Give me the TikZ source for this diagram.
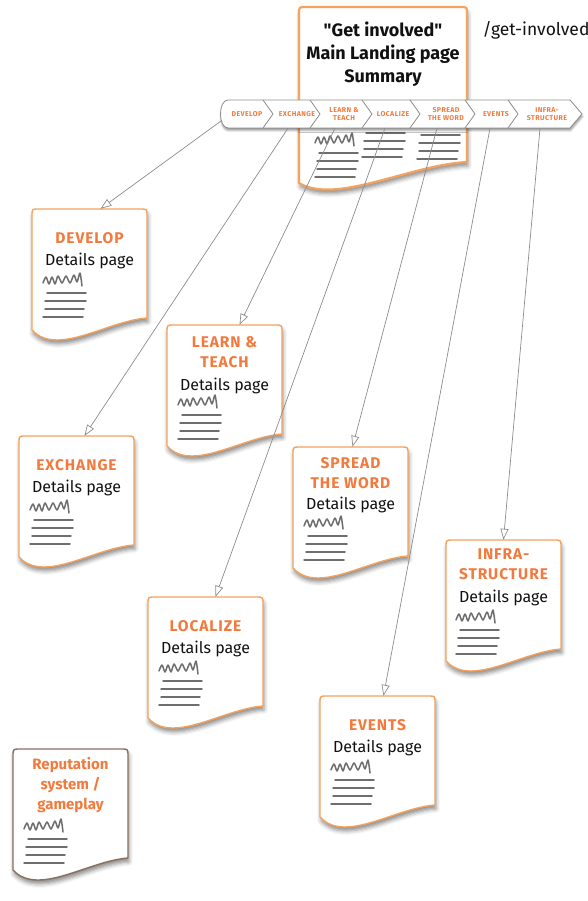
\documentclass[tikz,border=0pt]{standalone}
\usepackage{fontspec}
\setmainfont{Fira Sans}
\newfontfamily\capsfont{Fira Sans}[LetterSpace=6]
\newfontfamily\plainfont{Fira Sans}
\usetikzlibrary{positioning,arrows.meta,shadows.blur}
\definecolor{accent}{HTML}{F27A3C}
\definecolor{rim}{HTML}{F5A25C}
\definecolor{umber}{HTML}{8A6F60}
\definecolor{ink}{HTML}{111111}
\definecolor{wire}{HTML}{8C8C8C}
\definecolor{pencil}{HTML}{6E6E6E}

% page outline with a wavy foot: name, left, top, outline colour
\newcommand{\docpage}[4]{%
  \path[sheet, draw=#4] (#2,#3+121) -- (#2,#3+7) .. controls (#2,#3) .. (#2+7,#3)
    -- (#2+108,#3) .. controls (#2+115,#3) .. (#2+115,#3+7) -- (#2+115,#3+109)
    .. controls (#2+75,#3+112) and (#2+25,#3+148) .. (#2,#3+121) -- cycle;
  \node[pagebox] (#1) at (#2+57.5,#3+60) {};
}
% four text rules: left, first rule
\newcommand{\rules}[2]{%
  \begin{scope}[shift={(#1,#2)}]
    \foreach \dy/\a/\b in {0/4/43, 8/2/43, 16/2/41, 24/0/40}
      \draw[rule] (\a,\dy) -- (\b,\dy);
  \end{scope}
}
% scribble plus rules: left, centre of the scribble
\newcommand{\scrib}[2]{%
  \begin{scope}[shift={(#1,#2)}]
    \draw[squig] plot[smooth, tension=0.45] coordinates
      {(0,3) (3,-3) (6,4) (9,-3) (12,4) (15,-4) (19,3) (23,-4) (27,3) (31,-5) (34,2) (37,-7) (39,6)};
  \end{scope}
  \rules{#1}{#2+13}
}

\begin{document}
\begin{tikzpicture}[x=1pt, y=-1pt,
  sheet/.style={fill=white, line width=1.4pt,
                blur shadow={shadow xshift=1pt, shadow yshift=-4pt, shadow blur radius=4pt, shadow opacity=45}},
  pagebox/.style={inner sep=0, minimum width=115pt, minimum height=120pt},
  head/.style={text=accent, font=\capsfont\bfseries\fontsize{15.5}{20}\selectfont, align=center, inner sep=0},
  sub/.style={text=ink, font=\fontsize{16}{18}\selectfont, inner sep=0},
  title/.style={text=ink, font=\plainfont\bfseries\fontsize{18}{23}\selectfont, align=center, inner sep=0},
  tab/.style={text=accent, font=\capsfont\bfseries\fontsize{7}{8}\selectfont, align=center, inner sep=0, minimum height=28pt},
  bar/.style={fill=white, draw=wire, line width=0.8pt,
              blur shadow={shadow xshift=0.5pt, shadow yshift=-2.5pt, shadow blur radius=2pt, shadow opacity=40}},
  squig/.style={draw=pencil, line width=1.5pt, line cap=round, line join=round},
  rule/.style={draw=pencil, line width=1.5pt, line cap=round},
  link/.style={draw=wire, line width=0.7pt, -{Triangle[open, length=11pt, width=8pt]}}
]
\useasboundingbox (0,0) rectangle (588,901);

% landing page
\path[sheet, draw=rim, line width=2.2pt] (299,183) -- (299,14) .. controls (299,7) .. (306,7)
  -- (460,7) .. controls (467,7) .. (467,14) -- (467,162)
  .. controls (410,165) and (336,205) .. (299,183) -- cycle;
\node[pagebox, minimum width=168pt, minimum height=176pt] (hub) at (383,95) {};
\node[title] (htitle) at (383,54) {"Get involved"\\Main Landing page\\Summary};
\node[font=\fontsize{17.5}{20}\selectfont, text=ink, inner sep=0] (url) at (536,30) {/get-involved};
\scrib{315}{140}
\rules{362}{133}
\rules{417}{135}

% section tabs
\path[bar] (570,100) -- (582,114) -- (570,128) -- (228,128)
  .. controls (218,128) and (218,100) .. (228,100) -- cycle;
\foreach \b in {263,310,362,410,465,508}
  \draw[wire, line width=0.8pt] (\b,100) -- (\b+10,114) -- (\b,128);
\coordinate (barend) at (221,121);
\node[tab] (tdev) at (247,114) {DEVELOP};
\node[tab] (texch) at (297,114) {EXCHANGE};
\node[tab] (tlearn) at (344,114) {LEARN \&\\TEACH};
\node[tab] (tloc) at (393,114) {LOCALIZE};
\node[tab] (tspread) at (446,114) {SPREAD\\THE WORD};
\node[tab] (tevents) at (496,114) {EVENTS};
\node[tab] (tinfra) at (547,114) {INFRA-\\STRUCTURE};

% detail pages
\docpage{pdev}{32}{209}{rim}
\node[head] at ([yshift=-29pt]pdev.north) {DEVELOP};
\node[sub] at ([yshift=-52pt]pdev.north) {Details page};
\scrib{43}{280}

\docpage{plearn}{167}{325}{rim}
\node[head] at ([yshift=-27pt]plearn.north) {LEARN \&\\TEACH};
\node[sub] at ([yshift=-61pt]plearn.north) {Details page};
\scrib{178}{402}

\docpage{pexch}{19}{436}{rim}
\node[head] at ([yshift=-29pt]pexch.north) {EXCHANGE};
\node[sub] at ([yshift=-52pt]pexch.north) {Details page};
\scrib{30}{507}

\docpage{pspread}{293}{447}{rim}
\node[head] at ([yshift=-26pt]pspread.north) {SPREAD\\THE WORD};
\node[sub] at ([yshift=-58pt]pspread.north) {Details page};
\scrib{304}{523}

\docpage{pinfra}{446}{540}{rim}
\node[head] at ([yshift=-24pt]pinfra.north) {INFRA-\\STRUCTURE};
\node[sub] at ([yshift=-58pt]pinfra.north) {Details page};
\scrib{456}{617}

\docpage{ploc}{148}{597}{rim}
\node[head] at ([yshift=-29pt]ploc.north) {LOCALIZE};
\node[sub] at ([yshift=-52pt]ploc.north) {Details page};
\scrib{159}{668}

\docpage{pevents}{320}{696}{rim}
\node[head] at ([yshift=-29pt]pevents.north) {EVENTS};
\node[sub] at ([yshift=-52pt]pevents.north) {Details page};
\scrib{331}{767}

\docpage{prep}{13}{749}{umber}
\node[head, font=\bfseries\fontsize{15}{20}\selectfont] at ([yshift=-36pt]prep.north) {Reputation\\system /\\gameplay};
\scrib{24}{826}

% links from the tabs
\draw[link] (barend) -- ([xshift=11pt]pdev.north);
\draw[link] ([xshift=-9pt]texch.south) -- ([xshift=8pt]pexch.north);
\draw[link] ([xshift=-9pt]tlearn.south) -- ([xshift=15pt]plearn.north);
\draw[link] ([xshift=-8pt]tloc.south) -- ([xshift=10pt]ploc.north);
\draw[link] ([xshift=-9pt]tspread.south) -- ([xshift=2pt]pspread.north);
\draw[link] ([xshift=-6pt]tevents.south) -- ([xshift=6pt]pevents.north);
\draw[link] ([xshift=-7pt]tinfra.south) -- (pinfra.north);

\end{tikzpicture}
\end{document}
